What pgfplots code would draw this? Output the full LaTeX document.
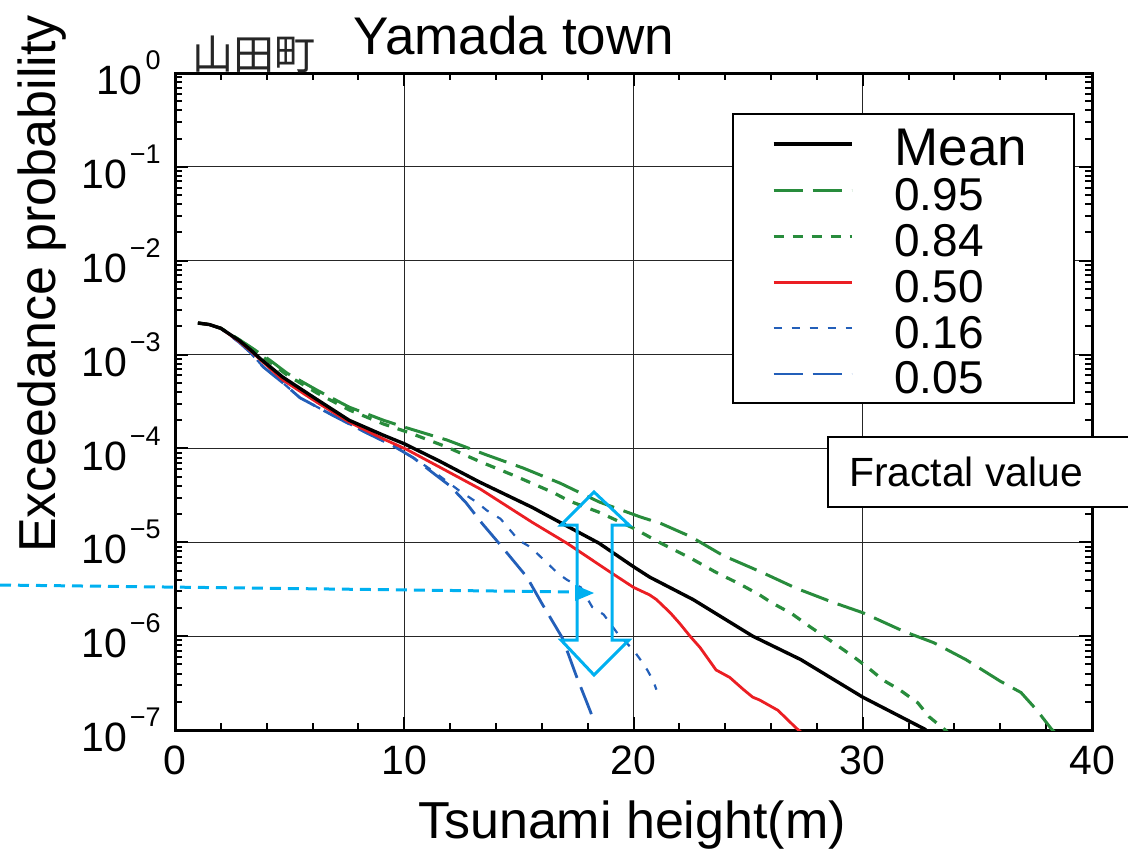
\documentclass[border=0pt]{standalone}
\usepackage{pgfplots}
\pgfplotsset{compat=1.18}
\usepackage{fontspec}
\setmainfont{Liberation Sans}
\newfontfamily\cjk{Noto Sans CJK JP}
\definecolor{gr}{RGB}{40,140,60}
\definecolor{rd}{RGB}{235,30,35}
\definecolor{bl}{RGB}{35,95,185}
\definecolor{cy}{RGB}{0,176,240}
\newcommand{\tp}[1]{10\hspace{1.5pt}\raisebox{12.5pt}{\fontsize{13.5}{13.5}\selectfont #1}}
\newcommand{\lt}[1]{\rule[-4.92pt]{0pt}{26.3pt}\makebox[70.5pt][l]{\fontsize{23}{26}\selectfont #1}}
\tikzset{
  smean/.style={black, line width=1.7pt},
  s95/.style={gr, line width=1.5pt, dash pattern=on 14.5pt off 5pt},
  s84/.style={gr, line width=1.6pt, dash pattern=on 5pt off 4.5pt},
  s50/.style={rd, line width=1.4pt},
  s16/.style={bl, line width=1.1pt, dash pattern=on 4pt off 5pt},
  s05/.style={bl, line width=1.4pt, dash pattern=on 14.5pt off 5pt},
}
\begin{document}
\begin{tikzpicture}
\useasboundingbox (0pt,0pt) rectangle (564pt,-425.5pt);
\begin{axis}[
  at={(87.5pt,-365pt)}, anchor=south west,
  scale only axis, width=458.5pt, height=328.5pt,
  xmin=0, xmax=40, ymode=log, ymin=1e-7, ymax=1,
  xtick={0,10,20,30,40}, minor x tick num=4,
  ytick={1e-7,1e-6,1e-5,1e-4,1e-3,1e-2,1e-1,1},
  yticklabels={\tp{−7},\tp{−6},\tp{−5},\tp{−4},\tp{−3},\tp{−2},\tp{−1},\tp{0}},
  tick align=inside,
  major tick length=6.5pt, minor tick length=3.5pt,
  every tick/.style={black, line width=1pt},
  axis line style={line width=1.5pt},
  grid=major, major grid style={black!85, line width=0.6pt},
  tick label style={font=\fontsize{20.5}{24}\selectfont},
  /pgf/number format/assume math mode=true,
  xticklabel style={inner sep=0pt, anchor=north, yshift=-7.5pt},
  yticklabel style={inner sep=0pt, anchor=east, xshift=-7pt},
  legend style={at={(0.6074,0.9391)}, anchor=north west, draw=black, line width=1pt, fill=white,
    inner xsep=19.5pt, inner ysep=2.85pt, column sep=20.5pt, row sep=0pt,
    nodes={inner sep=0pt}, cells={anchor=west}},
  legend image code/.code={\draw[#1] (0pt,0pt) -- (39pt,0pt);},
]
\addlegendimage{smean}\addlegendentry{\rule[-3.65pt]{0pt}{26.3pt}\makebox[70.5pt][l]{\fontsize{26.5}{30}\selectfont Mean}}
\addlegendimage{s95}\addlegendentry{\lt{0.95}}
\addlegendimage{s84}\addlegendentry{\lt{0.84}}
\addlegendimage{s50}\addlegendentry{\lt{0.50}}
\addlegendimage{s16}\addlegendentry{\lt{0.16}}
\addlegendimage{s05}\addlegendentry{\lt{0.05}}

% 0.05
\addplot[s05, forget plot] coordinates {(1.0,2.17e-3)(1.5,2.089e-3)(2.0,1.905e-3)(2.8,1.349e-3)(3.3,1.047e-3)(3.84,7.413e-4)(4.7,5.012e-4)(5.45,3.467e-4)(6.9,2.239e-4)(8.4,1.445e-4)(9.5,1.072e-4)(10.4,7.943e-5)(11.25,5.495e-5)(12.0,3.981e-5)(12.7,2.63e-5)(13.4,1.585e-5)(14.2,9.333e-6)(15.35,4.266e-6)(16.0,2.239e-6)(16.9,9.55e-7)(17.5,3.802e-7)(18.1,1.622e-7)(18.3,1.202e-7)};
% 0.16
\addplot[s16, forget plot] coordinates {(1.0,2.17e-3)(1.5,2.089e-3)(2.0,1.905e-3)(2.8,1.349e-3)(3.3,1.047e-3)(3.84,7.413e-4)(4.7,5.012e-4)(5.45,3.467e-4)(6.9,2.239e-4)(8.4,1.445e-4)(9.5,1.072e-4)(10.4,7.943e-5)(11.25,5.754e-5)(12.4,3.548e-5)(13.2,2.63e-5)(13.6,2.188e-5)(14.2,1.778e-5)(15.0,1.047e-5)(15.5,8.913e-6)(16.4,5.495e-6)(16.7,4.677e-6)(17.1,3.981e-6)(17.7,3.311e-6)(18.2,2.042e-6)(18.7,1.698e-6)(19.3,1.072e-6)(20.0,7.079e-7)(20.3,5.623e-7)(20.6,4.365e-7)(20.85,3.388e-7)(21.0,2.692e-7)};
% 0.84
\addplot[s84, forget plot] coordinates {(1.0,2.17e-3)(1.5,2.089e-3)(2.0,1.905e-3)(2.8,1.429e-3)(3.3,1.175e-3)(4.14,8.318e-4)(4.9,6.026e-4)(6.2,3.89e-4)(7.6,2.57e-4)(9.1,1.82e-4)(10.25,1.462e-4)(11.86,1.035e-4)(13.3,7.244e-5)(14.9,5.012e-5)(16.5,3.388e-5)(17.2,2.754e-5)(18.5,2.089e-5)(20.0,1.413e-5)(21.2,9.77e-6)(22.5,6.761e-6)(23.6,4.786e-6)(24.6,3.631e-6)(25.5,2.754e-6)(26.0,2.291e-6)(26.9,1.738e-6)(27.7,1.259e-6)(28.6,8.913e-7)(29.6,6.026e-7)(30.2,4.677e-7)(30.9,3.388e-7)(31.6,2.692e-7)(32.4,1.95e-7)(32.9,1.38e-7)(33.6,1.0e-7)(33.7,9.5e-8)};
% 0.95
\addplot[s95, forget plot] coordinates {(1.0,2.17e-3)(1.5,2.089e-3)(2.0,1.905e-3)(2.8,1.445e-3)(3.3,1.202e-3)(4.14,8.71e-4)(4.9,6.31e-4)(6.2,4.169e-4)(7.6,2.754e-4)(9.1,1.995e-4)(10.1,1.66e-4)(11.86,1.23e-4)(13.6,8.511e-5)(15.2,6.166e-5)(16.8,4.266e-5)(18.5,2.692e-5)(20.3,1.862e-5)(21.2,1.585e-5)(22.5,1.148e-5)(23.9,7.244e-6)(25.6,4.786e-6)(27.1,3.236e-6)(28.7,2.291e-6)(30.0,1.778e-6)(31.8,1.122e-6)(33.1,8.511e-7)(34.5,5.623e-7)(36.0,3.311e-7)(36.9,2.512e-7)(37.6,1.622e-7)(38.2,1.047e-7)(38.4,9.3e-8)};
% 0.50
\addplot[s50, forget plot] coordinates {(1.0,2.17e-3)(1.5,2.089e-3)(2.0,1.905e-3)(2.8,1.38e-3)(3.3,1.096e-3)(3.7,8.913e-4)(4.7,5.37e-4)(6.2,3.09e-4)(7.6,1.905e-4)(9.1,1.259e-4)(10.1,9.77e-5)(11.55,6.31e-5)(13.3,3.715e-5)(15.6,1.622e-5)(17.1,9.77e-6)(19.0,4.786e-6)(20.0,3.311e-6)(20.7,2.754e-6)(21.0,2.455e-6)(21.6,1.778e-6)(22.0,1.38e-6)(22.5,9.77e-7)(22.9,7.586e-7)(23.6,4.365e-7)(24.2,3.631e-7)(24.8,2.692e-7)(25.2,2.239e-7)(25.5,2.089e-7)(26.3,1.622e-7)(27.1,1.047e-7)(27.3,9.55e-8)};
% Mean
\addplot[smean, forget plot] coordinates {(1.0,2.17e-3)(1.5,2.089e-3)(2.0,1.905e-3)(2.8,1.413e-3)(3.3,1.122e-3)(3.7,9.12e-4)(4.7,5.754e-4)(6.2,3.311e-4)(7.6,1.995e-4)(9.1,1.38e-4)(10.0,1.122e-4)(11.5,7.41e-5)(13.3,4.365e-5)(15.6,2.344e-5)(16.05,2.042e-5)(18.5,9.77e-6)(20.0,5.495e-6)(20.7,4.266e-6)(22.6,2.455e-6)(25.2,1.0e-6)(27.3,5.623e-7)(30.0,2.239e-7)(32.7,1.023e-7)(32.9,9.3e-8)};
\end{axis}
\begin{scope}[x=0.5pt, y=-0.5pt]
  \draw[cy, line width=1.5pt, dash pattern=on 5.5pt off 3.5pt] (0,585) -- (577,592);
  \fill[cy] (575,585) -- (594,593) -- (575,601) -- cycle;
  \draw[cy, line width=1.5pt, line join=miter] (594,492) -- (629,525) -- (612,525) -- (612,640) -- (629,640) -- (594,675) -- (561,640) -- (577,640) -- (577,525) -- (561,525) -- cycle;
  \draw[line width=1pt, fill=white] (828,437) rectangle (1140,507);
  \node[font=\fontsize{20.4}{24}\selectfont] at (966,472) {Fractal value};
  \node[anchor=base, font=\fontsize{26.5}{30}\selectfont] at (514,54) {Yamada town};
  \node[font=\cjk\fontsize{20.5}{24}\selectfont, text=black!85] at (254,54) {山田町};
  \node[rotate=90, font=\fontsize{26}{30}\selectfont] at (42,284) {Exceedance probability};
  \node[anchor=base, font=\fontsize{26}{30}\selectfont] at (632,838) {Tsunami height(m)};
\end{scope}
\end{tikzpicture}
\end{document}
